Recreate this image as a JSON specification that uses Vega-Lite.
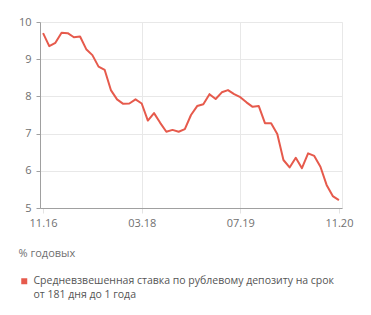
{
  "$schema": "https://vega.github.io/schema/vega-lite/v6.json",
  "width": 302,
  "height": 186,
  "autosize": {"type": "none"},
  "padding": {"left": 40, "top": 22, "right": 29, "bottom": 107},
  "background": "white",
  "config": {
    "font": "Open Sans",
    "view": {"stroke": "#e8e8e8"}
  },
  "data": {
    "values": [
      {"month": "11.16", "value": 9.70, "series": "Средневзвешенная ставка по рублевому депозиту на срок от 181 дня до 1 года"},
      {"month": "12.16", "value": 9.35, "series": "Средневзвешенная ставка по рублевому депозиту на срок от 181 дня до 1 года"},
      {"month": "01.17", "value": 9.44, "series": "Средневзвешенная ставка по рублевому депозиту на срок от 181 дня до 1 года"},
      {"month": "02.17", "value": 9.71, "series": "Средневзвешенная ставка по рублевому депозиту на срок от 181 дня до 1 года"},
      {"month": "03.17", "value": 9.70, "series": "Средневзвешенная ставка по рублевому депозиту на срок от 181 дня до 1 года"},
      {"month": "04.17", "value": 9.59, "series": "Средневзвешенная ставка по рублевому депозиту на срок от 181 дня до 1 года"},
      {"month": "05.17", "value": 9.61, "series": "Средневзвешенная ставка по рублевому депозиту на срок от 181 дня до 1 года"},
      {"month": "06.17", "value": 9.27, "series": "Средневзвешенная ставка по рублевому депозиту на срок от 181 дня до 1 года"},
      {"month": "07.17", "value": 9.11, "series": "Средневзвешенная ставка по рублевому депозиту на срок от 181 дня до 1 года"},
      {"month": "08.17", "value": 8.80, "series": "Средневзвешенная ставка по рублевому депозиту на срок от 181 дня до 1 года"},
      {"month": "09.17", "value": 8.71, "series": "Средневзвешенная ставка по рублевому депозиту на срок от 181 дня до 1 года"},
      {"month": "10.17", "value": 8.17, "series": "Средневзвешенная ставка по рублевому депозиту на срок от 181 дня до 1 года"},
      {"month": "11.17", "value": 7.92, "series": "Средневзвешенная ставка по рублевому депозиту на срок от 181 дня до 1 года"},
      {"month": "12.17", "value": 7.80, "series": "Средневзвешенная ставка по рублевому депозиту на срок от 181 дня до 1 года"},
      {"month": "01.18", "value": 7.81, "series": "Средневзвешенная ставка по рублевому депозиту на срок от 181 дня до 1 года"},
      {"month": "02.18", "value": 7.92, "series": "Средневзвешенная ставка по рублевому депозиту на срок от 181 дня до 1 года"},
      {"month": "03.18", "value": 7.81, "series": "Средневзвешенная ставка по рублевому депозиту на срок от 181 дня до 1 года"},
      {"month": "04.18", "value": 7.35, "series": "Средневзвешенная ставка по рублевому депозиту на срок от 181 дня до 1 года"},
      {"month": "05.18", "value": 7.55, "series": "Средневзвешенная ставка по рублевому депозиту на срок от 181 дня до 1 года"},
      {"month": "06.18", "value": 7.29, "series": "Средневзвешенная ставка по рублевому депозиту на срок от 181 дня до 1 года"},
      {"month": "07.18", "value": 7.05, "series": "Средневзвешенная ставка по рублевому депозиту на срок от 181 дня до 1 года"},
      {"month": "08.18", "value": 7.10, "series": "Средневзвешенная ставка по рублевому депозиту на срок от 181 дня до 1 года"},
      {"month": "09.18", "value": 7.05, "series": "Средневзвешенная ставка по рублевому депозиту на срок от 181 дня до 1 года"},
      {"month": "10.18", "value": 7.12, "series": "Средневзвешенная ставка по рублевому депозиту на срок от 181 дня до 1 года"},
      {"month": "11.18", "value": 7.50, "series": "Средневзвешенная ставка по рублевому депозиту на срок от 181 дня до 1 года"},
      {"month": "12.18", "value": 7.74, "series": "Средневзвешенная ставка по рублевому депозиту на срок от 181 дня до 1 года"},
      {"month": "01.19", "value": 7.79, "series": "Средневзвешенная ставка по рублевому депозиту на срок от 181 дня до 1 года"},
      {"month": "02.19", "value": 8.06, "series": "Средневзвешенная ставка по рублевому депозиту на срок от 181 дня до 1 года"},
      {"month": "03.19", "value": 7.93, "series": "Средневзвешенная ставка по рублевому депозиту на срок от 181 дня до 1 года"},
      {"month": "04.19", "value": 8.11, "series": "Средневзвешенная ставка по рублевому депозиту на срок от 181 дня до 1 года"},
      {"month": "05.19", "value": 8.17, "series": "Средневзвешенная ставка по рублевому депозиту на срок от 181 дня до 1 года"},
      {"month": "06.19", "value": 8.06, "series": "Средневзвешенная ставка по рублевому депозиту на срок от 181 дня до 1 года"},
      {"month": "07.19", "value": 7.98, "series": "Средневзвешенная ставка по рублевому депозиту на срок от 181 дня до 1 года"},
      {"month": "08.19", "value": 7.84, "series": "Средневзвешенная ставка по рублевому депозиту на срок от 181 дня до 1 года"},
      {"month": "09.19", "value": 7.72, "series": "Средневзвешенная ставка по рублевому депозиту на срок от 181 дня до 1 года"},
      {"month": "10.19", "value": 7.74, "series": "Средневзвешенная ставка по рублевому депозиту на срок от 181 дня до 1 года"},
      {"month": "11.19", "value": 7.28, "series": "Средневзвешенная ставка по рублевому депозиту на срок от 181 дня до 1 года"},
      {"month": "12.19", "value": 7.28, "series": "Средневзвешенная ставка по рублевому депозиту на срок от 181 дня до 1 года"},
      {"month": "01.20", "value": 6.99, "series": "Средневзвешенная ставка по рублевому депозиту на срок от 181 дня до 1 года"},
      {"month": "02.20", "value": 6.29, "series": "Средневзвешенная ставка по рублевому депозиту на срок от 181 дня до 1 года"},
      {"month": "03.20", "value": 6.09, "series": "Средневзвешенная ставка по рублевому депозиту на срок от 181 дня до 1 года"},
      {"month": "04.20", "value": 6.35, "series": "Средневзвешенная ставка по рублевому депозиту на срок от 181 дня до 1 года"},
      {"month": "05.20", "value": 6.07, "series": "Средневзвешенная ставка по рублевому депозиту на срок от 181 дня до 1 года"},
      {"month": "06.20", "value": 6.47, "series": "Средневзвешенная ставка по рублевому депозиту на срок от 181 дня до 1 года"},
      {"month": "07.20", "value": 6.40, "series": "Средневзвешенная ставка по рублевому депозиту на срок от 181 дня до 1 года"},
      {"month": "08.20", "value": 6.11, "series": "Средневзвешенная ставка по рублевому депозиту на срок от 181 дня до 1 года"},
      {"month": "09.20", "value": 5.62, "series": "Средневзвешенная ставка по рублевому депозиту на срок от 181 дня до 1 года"},
      {"month": "10.20", "value": 5.32, "series": "Средневзвешенная ставка по рублевому депозиту на срок от 181 дня до 1 года"},
      {"month": "11.20", "value": 5.21, "series": "Средневзвешенная ставка по рублевому депозиту на срок от 181 дня до 1 года"}
    ]
  },
  "mark": {"type": "line", "strokeWidth": 2, "strokeJoin": "round"},
  "encoding": {
    "x": {
      "field": "month",
      "type": "ordinal",
      "sort": null,
      "scale": {"type": "point", "padding": 0.5},
      "axis": {
        "values": ["11.16", "03.18", "07.19", "11.20"],
        "labelAngle": 0,
        "labelFontSize": 11,
        "labelColor": "#707070",
        "labelPadding": 4,
        "tickSize": 5,
        "tickColor": "#e3e3e3",
        "domainColor": "#a0a0a0",
        "grid": true,
        "gridColor": "#e8e8e8",
        "gridOpacity": {"condition": {"test": "datum.value == '03.18' || datum.value == '07.19'", "value": 1}, "value": 0},
        "title": "% годовых",
        "titleFontSize": 11,
        "titleFontWeight": "normal",
        "titleColor": "#707070",
        "titleAnchor": "start",
        "titleAlign": "left",
        "titleBaseline": "middle",
        "titleX": -22,
        "titleY": 45
      }
    },
    "y": {
      "field": "value",
      "type": "quantitative",
      "scale": {"domain": [5, 10], "nice": false, "zero": false},
      "axis": {
        "values": [5, 6, 7, 8, 9, 10],
        "title": null,
        "labelFontSize": 11,
        "labelColor": "#707070",
        "labelPadding": 5,
        "tickSize": 4,
        "tickColor": "#a0a0a0",
        "domainColor": "#a0a0a0",
        "gridColor": "#e8e8e8"
      }
    },
    "color": {
      "field": "series",
      "type": "nominal",
      "scale": {"range": ["#e65a4c"]},
      "legend": {
        "orient": "none",
        "legendX": -21,
        "legendY": 254,
        "title": null,
        "padding": 0,
        "symbolType": "square",
        "symbolSize": 36,
        "symbolStrokeWidth": 0,
        "symbolFillColor": "#e65a4c",
        "labelFontSize": 10.5,
        "labelColor": "#555555",
        "labelLimit": 400,
        "labelOffset": 4,
        "labelExpr": "['Средневзвешенная ставка по рублевому депозиту на срок', 'от 181 дня до 1 года']",
        "encode": {"labels": {"update": {"lineHeight": {"value": 14}}}}
      }
    }
  }
}
